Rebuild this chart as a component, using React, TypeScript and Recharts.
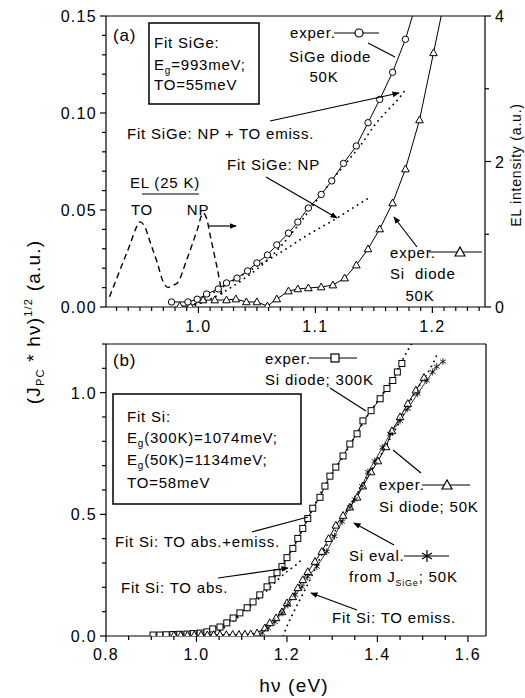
import React from 'react';
import { LineChart, Line, XAxis, YAxis, ReferenceLine } from 'recharts';

// panel (a): SiGe and Si diodes at 50 K, EL at 25 K
const sigeHv = [0.977, 0.991, 0.999, 1.007, 1.017, 1.024, 1.033, 1.042, 1.05, 1.059, 1.067, 1.077, 1.085, 1.094, 1.105, 1.114, 1.124, 1.135, 1.145, 1.155, 1.166, 1.177, 1.186];
const sigeJ = [0.0026, 0.0026, 0.004, 0.0067, 0.0093, 0.0124, 0.0149, 0.0186, 0.0227, 0.0268, 0.032, 0.0381, 0.0438, 0.051, 0.058, 0.065, 0.074, 0.083, 0.095, 0.107, 0.121, 0.138, 0.156];
const siAHv = [0.984, 0.993, 1.004, 1.014, 1.024, 1.032, 1.041, 1.05, 1.059, 1.067, 1.077, 1.085, 1.094, 1.105, 1.115, 1.125, 1.135, 1.145, 1.155, 1.166, 1.177, 1.189, 1.201, 1.211];
const siAJ = [0.0005, 0.0005, 0.0036, 0.0036, 0.0036, 0.0041, 0.0026, 0.0026, 0.0005, 0.0041, 0.0082, 0.0093, 0.0098, 0.0103, 0.0113, 0.0149, 0.0216, 0.0299, 0.0402, 0.0536, 0.0711, 0.0964, 0.131, 0.16];
const fitNpToHv = [0.993, 1.01, 1.025, 1.04, 1.055, 1.07, 1.085, 1.1, 1.115, 1.13, 1.14, 1.151, 1.162, 1.172, 1.177];
const fitNpToJ = [0, 0.004, 0.009, 0.015, 0.022, 0.031, 0.042, 0.054, 0.066, 0.077, 0.0845, 0.094, 0.1015, 0.108, 0.112];
const fitNpHv = [0.993, 1.02, 1.05, 1.07, 1.093, 1.119, 1.145];
const fitNpJ = [0, 0.01, 0.021, 0.028, 0.037, 0.046, 0.056];
const elHv = [0.924, 0.933, 0.942, 0.946, 0.95, 0.954, 0.959, 0.965, 0.97, 0.974, 0.977, 0.982, 0.99, 0.999, 1.004, 1.007, 1.01, 1.014, 1.018, 1.02];
const elIntensity = [0.14, 0.51, 0.88, 1.06, 1.17, 1.11, 0.88, 0.6, 0.34, 0.27, 0.29, 0.33, 0.65, 1.06, 1.29, 1.22, 0.99, 0.69, 0.37, 0.17];

// panel (b): Si diode at 300 K and 50 K
const si300Hv = [0.904, 0.919, 0.933, 0.948, 0.963, 0.979, 0.993, 1.008, 1.023, 1.036, 1.052, 1.067, 1.081, 1.096, 1.112, 1.125, 1.14, 1.156, 1.167, 1.178, 1.189, 1.2, 1.213, 1.224, 1.235, 1.246, 1.257, 1.273, 1.284, 1.295, 1.308, 1.324, 1.339, 1.355, 1.368, 1.386, 1.406, 1.421, 1.434, 1.444, 1.454];
const si300J = [0.004, 0.004, 0.005, 0.006, 0.007, 0.008, 0.01, 0.012, 0.017, 0.029, 0.037, 0.054, 0.074, 0.095, 0.116, 0.14, 0.169, 0.202, 0.231, 0.26, 0.285, 0.322, 0.36, 0.401, 0.442, 0.483, 0.525, 0.57, 0.616, 0.657, 0.694, 0.74, 0.789, 0.831, 0.884, 0.926, 0.975, 1.017, 1.05, 1.085, 1.12];
const si50Hv = [0.95, 0.965, 0.98, 0.995, 1.01, 1.024, 1.038, 1.052, 1.066, 1.08, 1.094, 1.107, 1.12, 1.134, 1.151, 1.162, 1.176, 1.189, 1.2, 1.213, 1.224, 1.235, 1.246, 1.262, 1.277, 1.292, 1.308, 1.324, 1.339, 1.355, 1.368, 1.386, 1.401, 1.419, 1.432, 1.45, 1.467, 1.485, 1.503];
const si50J = [0.003, 0.003, 0.003, 0.004, 0.004, 0.004, 0.005, 0.005, 0.005, 0.006, 0.006, 0.007, 0.008, 0.012, 0.033, 0.054, 0.074, 0.099, 0.136, 0.161, 0.198, 0.231, 0.264, 0.306, 0.347, 0.4, 0.455, 0.495, 0.529, 0.57, 0.616, 0.674, 0.719, 0.777, 0.843, 0.9, 0.955, 1.01, 1.062];
const siEvalHv = [1.145, 1.158, 1.173, 1.189, 1.202, 1.218, 1.233, 1.246, 1.266, 1.288, 1.305, 1.322, 1.339, 1.35, 1.366, 1.379, 1.394, 1.411, 1.428, 1.45, 1.467, 1.489, 1.509, 1.522, 1.531, 1.545];
const siEvalJ = [0.012, 0.033, 0.058, 0.095, 0.128, 0.169, 0.202, 0.244, 0.285, 0.347, 0.41, 0.47, 0.529, 0.562, 0.616, 0.674, 0.719, 0.775, 0.831, 0.884, 0.934, 0.996, 1.05, 1.085, 1.107, 1.128];
const fitAbsEmHv = [1.016, 1.04, 1.06, 1.08, 1.1, 1.12, 1.14, 1.16, 1.18, 1.2, 1.22, 1.24, 1.26, 1.28, 1.3, 1.32, 1.34, 1.36, 1.38, 1.4, 1.42, 1.44, 1.46, 1.475];
const fitAbsEmJ = [0, 0.012, 0.035, 0.065, 0.098, 0.132, 0.17, 0.212, 0.262, 0.32, 0.385, 0.458, 0.535, 0.605, 0.665, 0.725, 0.787, 0.85, 0.91, 0.965, 1.018, 1.08, 1.15, 1.2];
const fitAbsHv = [1.016, 1.04, 1.06, 1.08, 1.1, 1.12, 1.14, 1.16, 1.18, 1.2, 1.22, 1.235];
const fitAbsJ = [0, 0.012, 0.033, 0.06, 0.09, 0.123, 0.158, 0.195, 0.232, 0.265, 0.292, 0.318];
const fitEmHv = [1.192, 1.2, 1.21, 1.22, 1.233, 1.244, 1.257, 1.268, 1.28, 1.3, 1.32, 1.34, 1.36, 1.38, 1.4, 1.42, 1.44, 1.46, 1.48, 1.5, 1.52, 1.535];
const fitEmJ = [0, 0.04, 0.08, 0.118, 0.165, 0.205, 0.255, 0.3, 0.345, 0.41, 0.475, 0.54, 0.6, 0.66, 0.72, 0.785, 0.85, 0.92, 0.99, 1.05, 1.11, 1.17];

// tick labels
const aXMajor = [1.0, 1.1, 1.2];
const aYMajor = [0, 0.05, 0.1, 0.15];
const aRMajor = [0, 2, 4];
const bXMajor = [0.8, 1.0, 1.2, 1.4, 1.6];
const bYMajor = [0, 0.5, 1.0];

const steps = (from: number, step: number, n: number) =>
  Array.from({ length: n }, (_, i) => +(from + i * step).toFixed(3));

const pts = (xs: number[], ys: number[]) => xs.map((x, i) => ({ x, y: ys[i] }));

const FONT = '"Liberation Sans", Arial, Helvetica, sans-serif';
const LW = 1.2;

function makeTick(side: 'bottom' | 'left' | 'right', majors: number[], digits: number, gap: number) {
  return (p: any) => {
    const v = p.payload.value;
    const major = majors.some((m) => Math.abs(m - v) < 1e-6);
    const len = major ? 6 : 4;
    const { x, y } = p;
    const label = major ? v.toFixed(digits) : null;
    const ts = { fontFamily: FONT, fontSize: 16, letterSpacing: 1.3, fill: '#000' };
    if (side === 'bottom') {
      return (
        <g>
          <line x1={x} y1={y} x2={x} y2={y + len} stroke="#000" strokeWidth={LW} />
          {label && <text x={x} y={y + gap} textAnchor="middle" {...ts}>{label}</text>}
        </g>
      );
    }
    if (side === 'left') {
      return (
        <g>
          <line x1={x - len} y1={y} x2={x} y2={y} stroke="#000" strokeWidth={LW} />
          {label && <text x={x - 9} y={y + 6} textAnchor="end" {...ts}>{label}</text>}
        </g>
      );
    }
    return (
      <g>
        <line x1={x} y1={y} x2={x + len} y2={y} stroke="#000" strokeWidth={LW} />
        {label && <text x={x + 10} y={y + 6} textAnchor="start" {...ts}>{label}</text>}
      </g>
    );
  };
}

const circleDot = (p: any) => (
  <circle key={`c${p.index}`} cx={p.cx} cy={p.cy} r={3.2} fill="#fff" stroke="#000" strokeWidth={1} />
);
const triDot = (p: any) => (
  <polygon key={`t${p.index}`} points={`${p.cx},${p.cy - 4} ${p.cx - 3.8},${p.cy + 2.8} ${p.cx + 3.8},${p.cy + 2.8}`} fill="#fff" stroke="#000" strokeWidth={1} />
);
const sqDot = (p: any) => (
  <rect key={`s${p.index}`} x={p.cx - 3} y={p.cy - 3} width={6} height={6} fill="#fff" stroke="#000" strokeWidth={1} />
);
const starDot = (p: any) => (
  <g key={`a${p.index}`} stroke="#000" strokeWidth={0.8}>
    <line x1={p.cx} y1={p.cy - 3.5} x2={p.cx} y2={p.cy + 3.5} />
    <line x1={p.cx - 3} y1={p.cy - 1.8} x2={p.cx + 3} y2={p.cy + 1.8} />
    <line x1={p.cx - 3} y1={p.cy + 1.8} x2={p.cx + 3} y2={p.cy - 1.8} />
  </g>
);

const axisLine = { stroke: '#000', strokeWidth: LW };
const dotted = { stroke: '#000', strokeWidth: 1.8, strokeDasharray: '0.1 5.5', strokeLinecap: 'round' as const };

function PanelA() {
  return (
    <LineChart width={525} height={340} margin={{ top: 16, right: 0, bottom: 3, left: 46 }}>
      <XAxis dataKey="x" type="number" domain={[0.921, 1.245]} allowDataOverflow ticks={steps(0.93, 0.01, 32)}
        interval={0} tickSize={0} tickMargin={0} tickLine={false} axisLine={axisLine} height={30}
        tick={makeTick('bottom', aXMajor, 1, 25)} />
      <YAxis yAxisId="l" type="number" domain={[0, 0.15]} allowDataOverflow ticks={steps(0, 0.01, 16)}
        interval={0} tickSize={0} tickMargin={0} tickLine={false} axisLine={axisLine} width={60}
        tick={makeTick('left', aYMajor, 2, 0)} />
      <YAxis yAxisId="r" orientation="right" type="number" domain={[0, 4]} allowDataOverflow ticks={steps(0, 1, 5)}
        interval={0} tickSize={0} tickMargin={0} tickLine={false} axisLine={axisLine} width={40}
        tick={makeTick('right', aRMajor, 0, 0)} />
      <ReferenceLine yAxisId="l" y={0.15} stroke="#000" strokeWidth={LW} />
      <Line yAxisId="r" data={pts(elHv, elIntensity)} dataKey="y" type="monotone" stroke="#000" strokeWidth={1.4}
        strokeDasharray="6 4" dot={false} activeDot={false} isAnimationActive={false} />
      <Line yAxisId="l" data={pts(fitNpHv, fitNpJ)} dataKey="y" type="linear" {...dotted} dot={false} activeDot={false} isAnimationActive={false} />
      <Line yAxisId="l" data={pts(fitNpToHv, fitNpToJ)} dataKey="y" type="monotone" {...dotted} dot={false} activeDot={false} isAnimationActive={false} />
      <Line yAxisId="l" data={pts(siAHv, siAJ)} dataKey="y" type="linear" stroke="#000" strokeWidth={1} dot={triDot} activeDot={false} isAnimationActive={false} />
      <Line yAxisId="l" data={pts(sigeHv, sigeJ)} dataKey="y" type="linear" stroke="#000" strokeWidth={1} dot={circleDot} activeDot={false} isAnimationActive={false} />
    </LineChart>
  );
}

function PanelB() {
  return (
    <LineChart width={525} height={368} margin={{ top: 14, right: 39, bottom: 32, left: 46 }}>
      <XAxis dataKey="x" type="number" domain={[0.8, 1.64]} allowDataOverflow ticks={steps(0.8, 0.05, 17)}
        interval={0} tickSize={0} tickMargin={0} tickLine={false} axisLine={axisLine} height={30}
        tick={makeTick('bottom', bXMajor, 1, 24)} />
      <YAxis type="number" domain={[0, 1.2]} allowDataOverflow ticks={steps(0, 0.1, 13)}
        interval={0} tickSize={0} tickMargin={0} tickLine={false} axisLine={axisLine} width={60}
        tick={makeTick('left', bYMajor, 1, 0)} />
      <ReferenceLine y={1.2} stroke="#000" strokeWidth={LW} />
      <ReferenceLine x={1.64} stroke="#000" strokeWidth={LW} />
      <Line data={pts(fitAbsEmHv, fitAbsEmJ)} dataKey="y" type="monotone" {...dotted} dot={false} activeDot={false} isAnimationActive={false} />
      <Line data={pts(fitAbsHv, fitAbsJ)} dataKey="y" type="monotone" {...dotted} dot={false} activeDot={false} isAnimationActive={false} />
      <Line data={pts(fitEmHv, fitEmJ)} dataKey="y" type="monotone" {...dotted} dot={false} activeDot={false} isAnimationActive={false} />
      <Line data={pts(si300Hv, si300J)} dataKey="y" type="linear" stroke="#000" strokeWidth={1} dot={sqDot} activeDot={false} isAnimationActive={false} />
      <Line data={pts(si50Hv, si50J)} dataKey="y" type="linear" stroke="#000" strokeWidth={1} dot={triDot} activeDot={false} isAnimationActive={false} />
      <Line data={pts(siEvalHv, siEvalJ)} dataKey="y" type="linear" stroke="#000" strokeWidth={0.8} dot={starDot} activeDot={false} isAnimationActive={false} />
    </LineChart>
  );
}

function Labels() {
  const t = { fontFamily: FONT, fontSize: 15, letterSpacing: 0.8, fill: '#000' };
  const ln = { stroke: '#000', strokeWidth: 1.2 };
  return (
    <svg width={525} height={698} style={{ position: 'absolute', left: 0, top: 0, pointerEvents: 'none' }}>
      <defs>
        <marker id="ah" viewBox="0 0 10 10" refX={9} refY={5} markerWidth={6} markerHeight={6} orient="auto">
          <path d="M0,1 L10,5 L0,9 z" fill="#000" />
        </marker>
      </defs>

      {/* panel (a) */}
      <text x={113} y={41} {...t} fontSize={17}>(a)</text>
      <rect x={149} y={23} width={110} height={81} fill="#fff" stroke="#000" strokeWidth={1.5} />
      <text x={154} y={48} {...t}>Fit SiGe:</text>
      <text x={154} y={70} {...t}>E<tspan dy={4} fontSize={10}>g</tspan><tspan dy={-4}>=993meV;</tspan></text>
      <text x={154} y={90} {...t}>TO=55meV</text>

      <text x={290} y={38} {...t}>exper.</text>
      <line x1={334} y1={33} x2={379} y2={33} {...ln} />
      <circle cx={359} cy={33} r={4} fill="#fff" stroke="#000" strokeWidth={1.2} />
      <text x={289} y={62} {...t}>SiGe diode</text>
      <text x={324} y={82} {...t} textAnchor="middle">50K</text>
      <line x1={368} y1={43} x2={395} y2={57} {...ln} />

      <text x={127} y={139} {...t}>Fit SiGe: NP + TO emiss.</text>
      <line x1={270} y1={121} x2={399} y2={93} {...ln} markerEnd="url(#ah)" />
      <text x={227} y={170} {...t}>Fit SiGe: NP</text>
      <line x1={266} y1={177} x2={337} y2={218} {...ln} markerEnd="url(#ah)" />

      <text x={130} y={188} {...t}>EL (25 K)</text>
      <line x1={142} y1={194} x2={199} y2={194} {...ln} />
      <text x={142} y={215} {...t} textAnchor="middle">TO</text>
      <text x={198} y={215} {...t} textAnchor="middle">NP</text>
      <line x1={209} y1={226} x2={236} y2={226} {...ln} markerEnd="url(#ah)" />

      <text x={390} y={258} {...t}>exper.</text>
      <line x1={429} y1={252} x2={482} y2={252} {...ln} />
      <polygon points="460,247 455,256 465,256" fill="#fff" stroke="#000" strokeWidth={1.2} />
      <text x={390} y={279} {...t}>Si{'\u00a0\u00a0'}diode</text>
      <text x={420} y={301} {...t} textAnchor="middle">50K</text>
      <line x1={417} y1={247} x2={394} y2={217} {...ln} markerEnd="url(#ah)" />

      {/* panel (b) */}
      <text x={113} y={366} {...t} fontSize={17}>(b)</text>
      <rect x={113} y={394} width={188} height={110} fill="#fff" stroke="#000" strokeWidth={1.5} />
      <text x={127} y={422} {...t}>Fit Si:</text>
      <text x={127} y={443} {...t}>E<tspan dy={4} fontSize={10}>g</tspan><tspan dy={-4}>(300K)=1074meV;</tspan></text>
      <text x={127} y={465} {...t}>E<tspan dy={4} fontSize={10}>g</tspan><tspan dy={-4}>(50K)=1134meV;</tspan></text>
      <text x={127} y={488} {...t}>TO=58meV</text>

      <text x={265} y={364} {...t}>exper.</text>
      <line x1={309} y1={358} x2={357} y2={358} {...ln} />
      <rect x={331} y={354} width={8} height={8} fill="#fff" stroke="#000" strokeWidth={1.2} />
      <text x={265} y={385} {...t}>Si diode; 300K</text>
      <line x1={330} y1={388} x2={366} y2={411} {...ln} />

      <text x={379} y={490} {...t}>exper.</text>
      <line x1={422} y1={485} x2={470} y2={485} {...ln} />
      <polygon points="447,480 442,489 452,489" fill="#fff" stroke="#000" strokeWidth={1.2} />
      <text x={379} y={512} {...t}>Si diode; 50K</text>
      <line x1={421} y1={473} x2={393} y2={450} {...ln} />

      <text x={349} y={561} {...t}>Si eval.</text>
      <line x1={404} y1={556} x2={449} y2={556} {...ln} />
      <g stroke="#000" strokeWidth={1.2}>
        <line x1={427} y1={550} x2={427} y2={562} />
        <line x1={422} y1={553} x2={432} y2={559} />
        <line x1={422} y1={559} x2={432} y2={553} />
      </g>
      <text x={349} y={582} {...t}>from J<tspan dy={4} fontSize={9}>SiGe</tspan><tspan dy={-4}>; 50K</tspan></text>
      <line x1={394} y1={545} x2={354} y2={523} {...ln} markerEnd="url(#ah)" />

      <text x={332} y={623} {...t}>Fit Si: TO emiss.</text>
      <line x1={357} y1={610} x2={311} y2={593} {...ln} markerEnd="url(#ah)" />
      <text x={115} y={547} {...t}>Fit Si: TO abs.+emiss.</text>
      <line x1={252} y1={532} x2={308} y2={517} {...ln} />
      <text x={121} y={593} {...t}>Fit Si: TO abs.</text>
      <line x1={218} y1={578} x2={288} y2={568} {...ln} markerEnd="url(#ah)" />

      {/* axis titles */}
      <text x={0} y={0} transform="translate(40,322) rotate(-90)" textAnchor="middle" fontFamily={FONT} fontSize={19} letterSpacing={1.2}>
        (J<tspan dy={4} fontSize={11}>PC</tspan><tspan dy={-4}> * hν)</tspan><tspan dy={-8} fontSize={11}>1/2</tspan><tspan dy={8}> (a.u.)</tspan>
      </text>
      <text x={0} y={0} transform="translate(521,165) rotate(-90)" textAnchor="middle" fontFamily={FONT} fontSize={14} letterSpacing={0.8}>
        EL intensity (a.u.)
      </text>
      <text x={294} y={692} textAnchor="middle" fontFamily={FONT} fontSize={19} letterSpacing={1.2}>hν (eV)</text>
    </svg>
  );
}

export default function App() {
  return (
    <div style={{ position: 'absolute', left: 0, top: 0, width: 525, height: 698, background: '#fff' }}>
      <div style={{ position: 'absolute', left: 0, top: 0 }}>
        <PanelA />
      </div>
      <div style={{ position: 'absolute', left: 0, top: 330 }}>
        <PanelB />
      </div>
      <Labels />
    </div>
  );
}
